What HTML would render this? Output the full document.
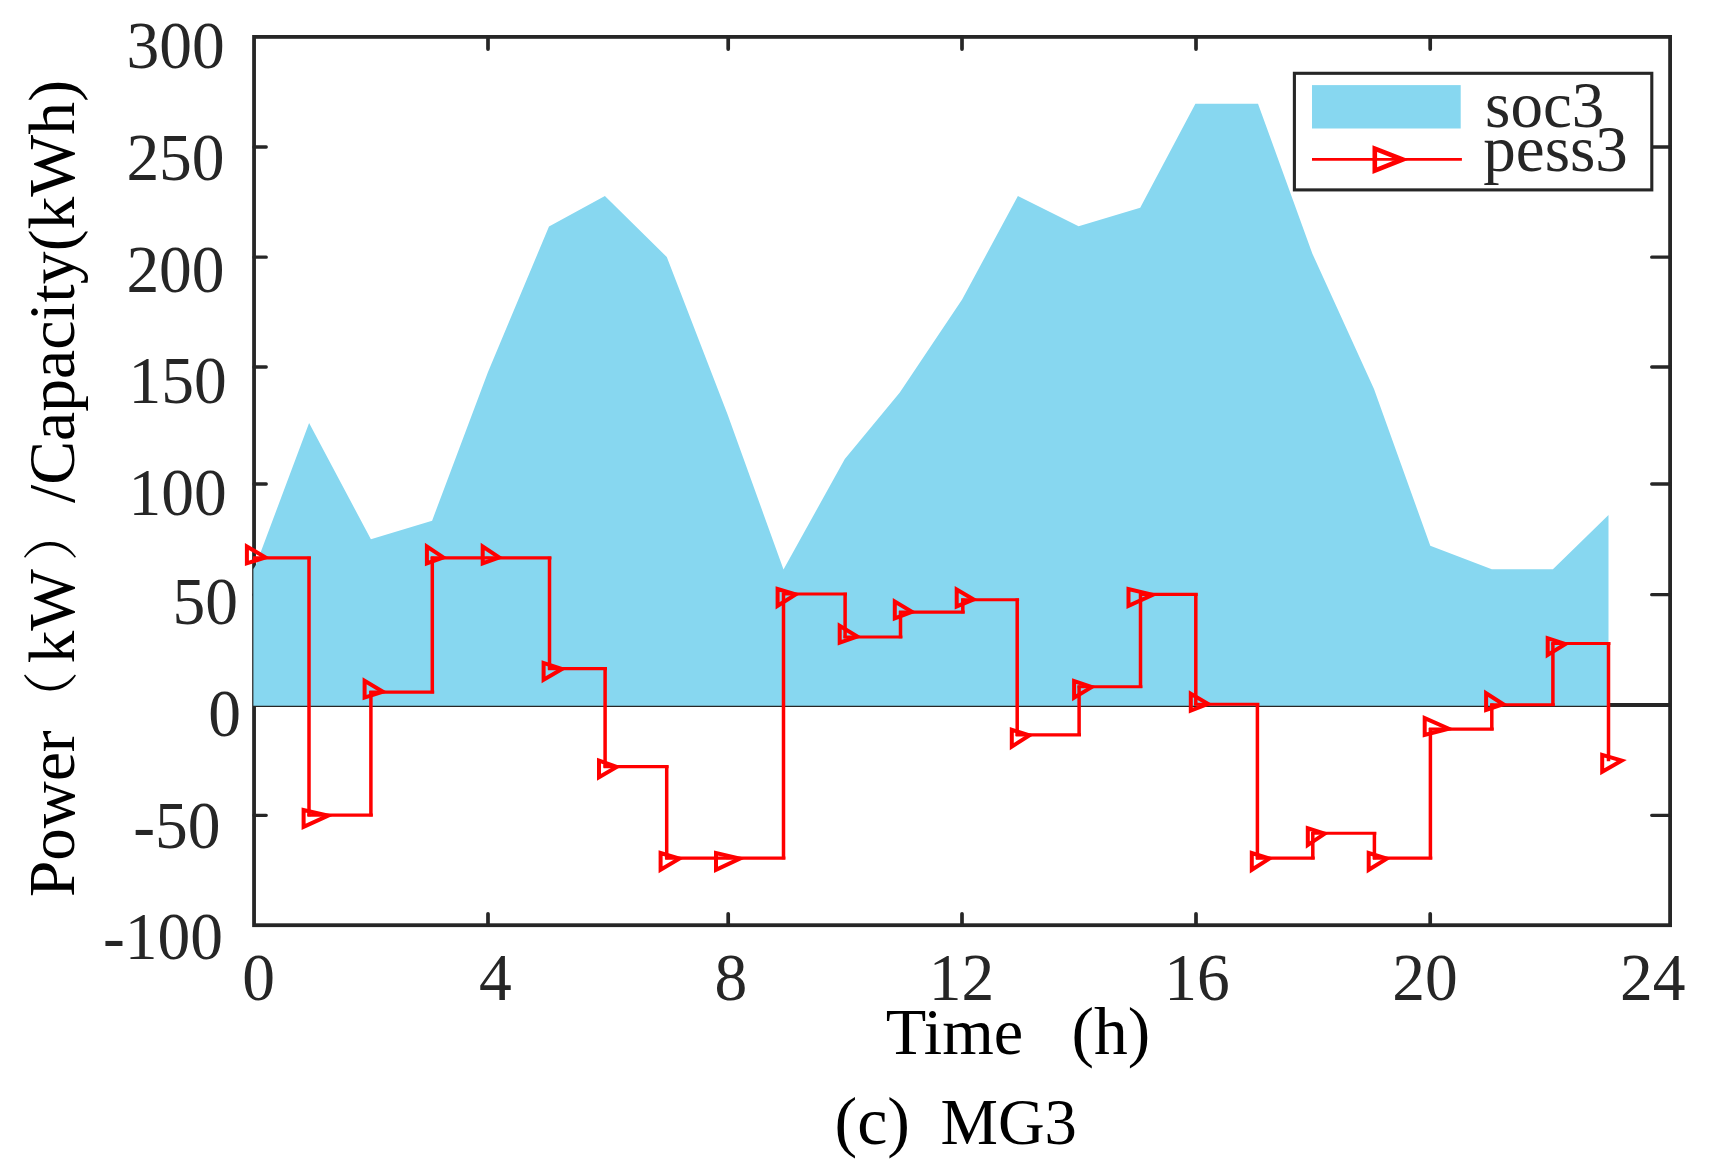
<!DOCTYPE html>
<html lang="en"><head><meta charset="utf-8"><title>MG3</title>
<style>html,body{margin:0;padding:0;background:#fff}svg{display:block}text{font-family:"Liberation Serif","Noto Serif CJK SC",serif;white-space:pre}</style></head><body>
<svg width="1722" height="1174" viewBox="0 0 1722 1174">
<rect width="1722" height="1174" fill="#fff"/>
<rect x="254.05" y="36.9" width="1416.05" height="888.3" stroke="#262626" stroke-width="3.8" fill="none"/>
<g stroke="#262626" fill="none" stroke-linecap="round">
<path stroke-width="3.7" d="M488 36.9V49.1M488 925.2V913.8M728.2 36.9V49.1M728.2 925.2V913.8M962 36.9V49.1M962 925.2V913.8M1196 36.9V49.1M1196 925.2V913.8M1430.2 36.9V49.1M1430.2 925.2V913.8"/>
<path stroke-width="3.3" d="M254.05 147H266.25M1670.1 147H1651.7M254.05 257.2H266.25M1670.1 257.2H1651.7M254.05 367H266.25M1670.1 367H1651.7M254.05 484H266.25M1670.1 484H1651.7M254.05 594.7H266.25M1670.1 594.7H1651.7M254.05 815.3H266.25M1670.1 815.3H1651.7"/>
</g>
<path d="M254.05 704.9H1670.1" stroke="#262626" stroke-width="4"/>
<polygon fill="#87D7F0" points="253.4,569 255.9,565 309.1,423 370.9,539.3 432.1,520.7 488,372 549,226.5 604.9,196 666.8,257 727.6,414.5 783.5,569.5 844.8,459 899.8,392.5 962.1,299.5 1017.9,196 1078.6,226.3 1140.2,207.7 1195.4,103.7 1258,103.7 1312.3,253.5 1374,389 1430.3,545.8 1491.8,569.3 1552.9,569.3 1608.5,515.1 1608.5,705.8 253.4,705.8"/>
<path d="M252.9 557.9H310.9M307.5 815.1H372.8M369.4 692.1H434.2M430.8 557.9H489.9M486.5 557.9H551.4M548.0 668.6H607.0M603.6 766.6H668.6M665.2 858.1H729.9M726.5 858.1H785.4M782.0 594H847.0M843.6 637H902.4M899.0 612.1H964.7M961.3 599.8H1019.1M1015.7 734.9H1081.0M1077.6 686.7H1142.4M1139.0 594.4H1197.7M1194.3 704.2H1259.3M1255.9 858.1H1314.7M1311.3 833.2H1376.3M1372.9 858.1H1432.3M1428.9 729.1H1493.7M1490.3 704.7H1554.8M1551.4 643.5H1610.4" fill="none" stroke="#FF0000" stroke-width="3.1"/>
<path d="M309 556.7V816.3M370.9 690.9V816.3M432.3 556.7V693.3M488 556.7V559.1M549.5 556.7V669.8M605.1 667.4V767.8M666.7 765.4V859.3M728 856.9V859.3M783.5 592.8V859.3M845.1 592.8V638.2M900.5 610.9V638.2M962.8 598.6V613.3M1017.2 598.6V736.1M1079.1 685.5V736.1M1140.5 593.2V687.9M1195.8 593.2V705.4M1257.4 703.0V859.3M1312.8 832.0V859.3M1374.4 832.0V859.3M1430.4 727.9V859.3M1491.8 703.5V730.3M1552.9 642.3V705.9M1608.5 642.3V761.3" fill="none" stroke="#FF0000" stroke-width="3.5"/>
<g fill="none" stroke="#FF0000" stroke-width="4" stroke-linejoin="miter">
<path d="M246.9 546.5V563.3L265.4 557.4Z"/>
<path d="M303.6 810.1V826.9L328.2 815.6Z"/>
<path d="M364.6 680.8V697.6L382.9 691.7Z"/>
<path d="M426.9 546.5V563.3L443.3 557.4Z"/>
<path d="M482.7 546.5V563.3L499.2 557.4Z"/>
<path d="M543.6 662.9V679.7L562.0 669.0Z"/>
<path d="M599.0 760.5V777.3L616.7 766.9Z"/>
<path d="M660.6 853.0V869.8L679.4 858.6Z"/>
<path d="M716.0 853.0V869.8L739.9 858.6Z"/>
<path d="M777.6 589.0V605.8L795.7 594.5Z"/>
<path d="M839.7 625.9V642.7L857.3 636.6Z"/>
<path d="M894.8 601.5V618.3L912.0 611.8Z"/>
<path d="M956.7 589.6V606.4L973.6 599.5Z"/>
<path d="M1011.8 729.8V746.6L1029.4 735.4Z"/>
<path d="M1074.1 681.0V697.8L1091.7 687.1Z"/>
<path d="M1128.5 589.0V605.8L1152.7 594.9Z"/>
<path d="M1190.8 693.7V710.5L1208.0 703.9Z"/>
<path d="M1251.8 853.0V869.8L1269.4 858.6Z"/>
<path d="M1307.8 828.3V845.1L1324.7 833.7Z"/>
<path d="M1368.7 853.0V869.8L1386.8 858.6Z"/>
<path d="M1424.7 718.1V734.9L1448.7 728.7Z"/>
<path d="M1486.1 693.2V710.0L1503.3 704.2Z"/>
<path d="M1547.7 638.2V655.0L1565.4 644.0Z"/>
<path d="M1602.2 754.9V771.7L1621.7 760.6Z"/>
</g>
<rect x="1294.4" y="73.3" width="357.4" height="116.6" fill="#fff" stroke="#262626" stroke-width="3.1"/>
<rect x="1312" y="85.1" width="148.7" height="43.4" fill="#87D7F0"/>
<path d="M1312 159.4H1461.9" stroke="#FF0000" stroke-width="2.8"/>
<path d="M1374.8 148.6V170.6L1402.8 159.5Z" fill="none" stroke="#FF0000" stroke-width="4.6" stroke-linejoin="miter"/>
<text transform="translate(224.8,68.3) scale(1,1.03)" font-size="65.5" fill="#262626" text-anchor="end">300</text>
<text transform="translate(224.6,180.0) scale(1,1.03)" font-size="65.5" fill="#262626" text-anchor="end">250</text>
<text transform="translate(224.6,291.7) scale(1,1.03)" font-size="65.5" fill="#262626" text-anchor="end">200</text>
<text transform="translate(226.8,403.0) scale(1,1.03)" font-size="65.5" fill="#262626" text-anchor="end">150</text>
<text transform="translate(226.7,515.1) scale(1,1.03)" font-size="65.5" fill="#262626" text-anchor="end">100</text>
<text transform="translate(237.9,624.3) scale(1,1.03)" font-size="65.5" fill="#262626" text-anchor="end">50</text>
<text transform="translate(241.1,736.3) scale(1,1.03)" font-size="65.5" fill="#262626" text-anchor="end">0</text>
<text transform="translate(220.5,848.1) scale(1,1.03)" font-size="65.5" fill="#262626" text-anchor="end">-50</text>
<text transform="translate(223.0,958.9) scale(1,1.03)" font-size="65.5" fill="#262626" text-anchor="end">-100</text>
<text transform="translate(242.3,1000.3) scale(1,1.03)" font-size="65.5" fill="#262626">0</text>
<text transform="translate(479.1,1000.3) scale(1,1.03)" font-size="65.5" fill="#262626">4</text>
<text transform="translate(714.6,1000.3) scale(1,1.03)" font-size="65.5" fill="#262626">8</text>
<text transform="translate(928.7,1000.3) scale(1,1.03)" font-size="65.5" fill="#262626">12</text>
<text transform="translate(1164.2,1000.3) scale(1,1.03)" font-size="65.5" fill="#262626">16</text>
<text transform="translate(1392.3,1000.3) scale(1,1.03)" font-size="65.5" fill="#262626">20</text>
<text transform="translate(1619.9,1000.3) scale(1,1.03)" font-size="65.5" fill="#262626">24</text>
<text transform="translate(1485.1,126.9)" font-size="65" fill="#262626">soc3</text>
<text transform="translate(1483.3,171.1)" font-size="65" fill="#262626">pess3</text>
<text transform="translate(74,897) rotate(-90)" font-size="65.2" fill="#000">Power<tspan dx="4.0" dy="-2.8" font-size="55.5">（</tspan><tspan dx="7.7" dy="2.8">kW</tspan><tspan dx="7.75" dy="-2.8" font-size="55.5">）</tspan><tspan dx="2.75" dy="2.8" font-size="65.7">/Capacity(kWh)</tspan></text>
<text y="1053.8" font-size="66.3" fill="#000"><tspan x="885.7">Time </tspan><tspan x="1071.5" font-size="67.5">(h)</tspan></text>
<text y="1144" font-size="65" fill="#000"><tspan x="834.5" font-size="68">(c) </tspan><tspan x="940.5" font-size="64.6">MG3</tspan></text>
</svg></body></html>
